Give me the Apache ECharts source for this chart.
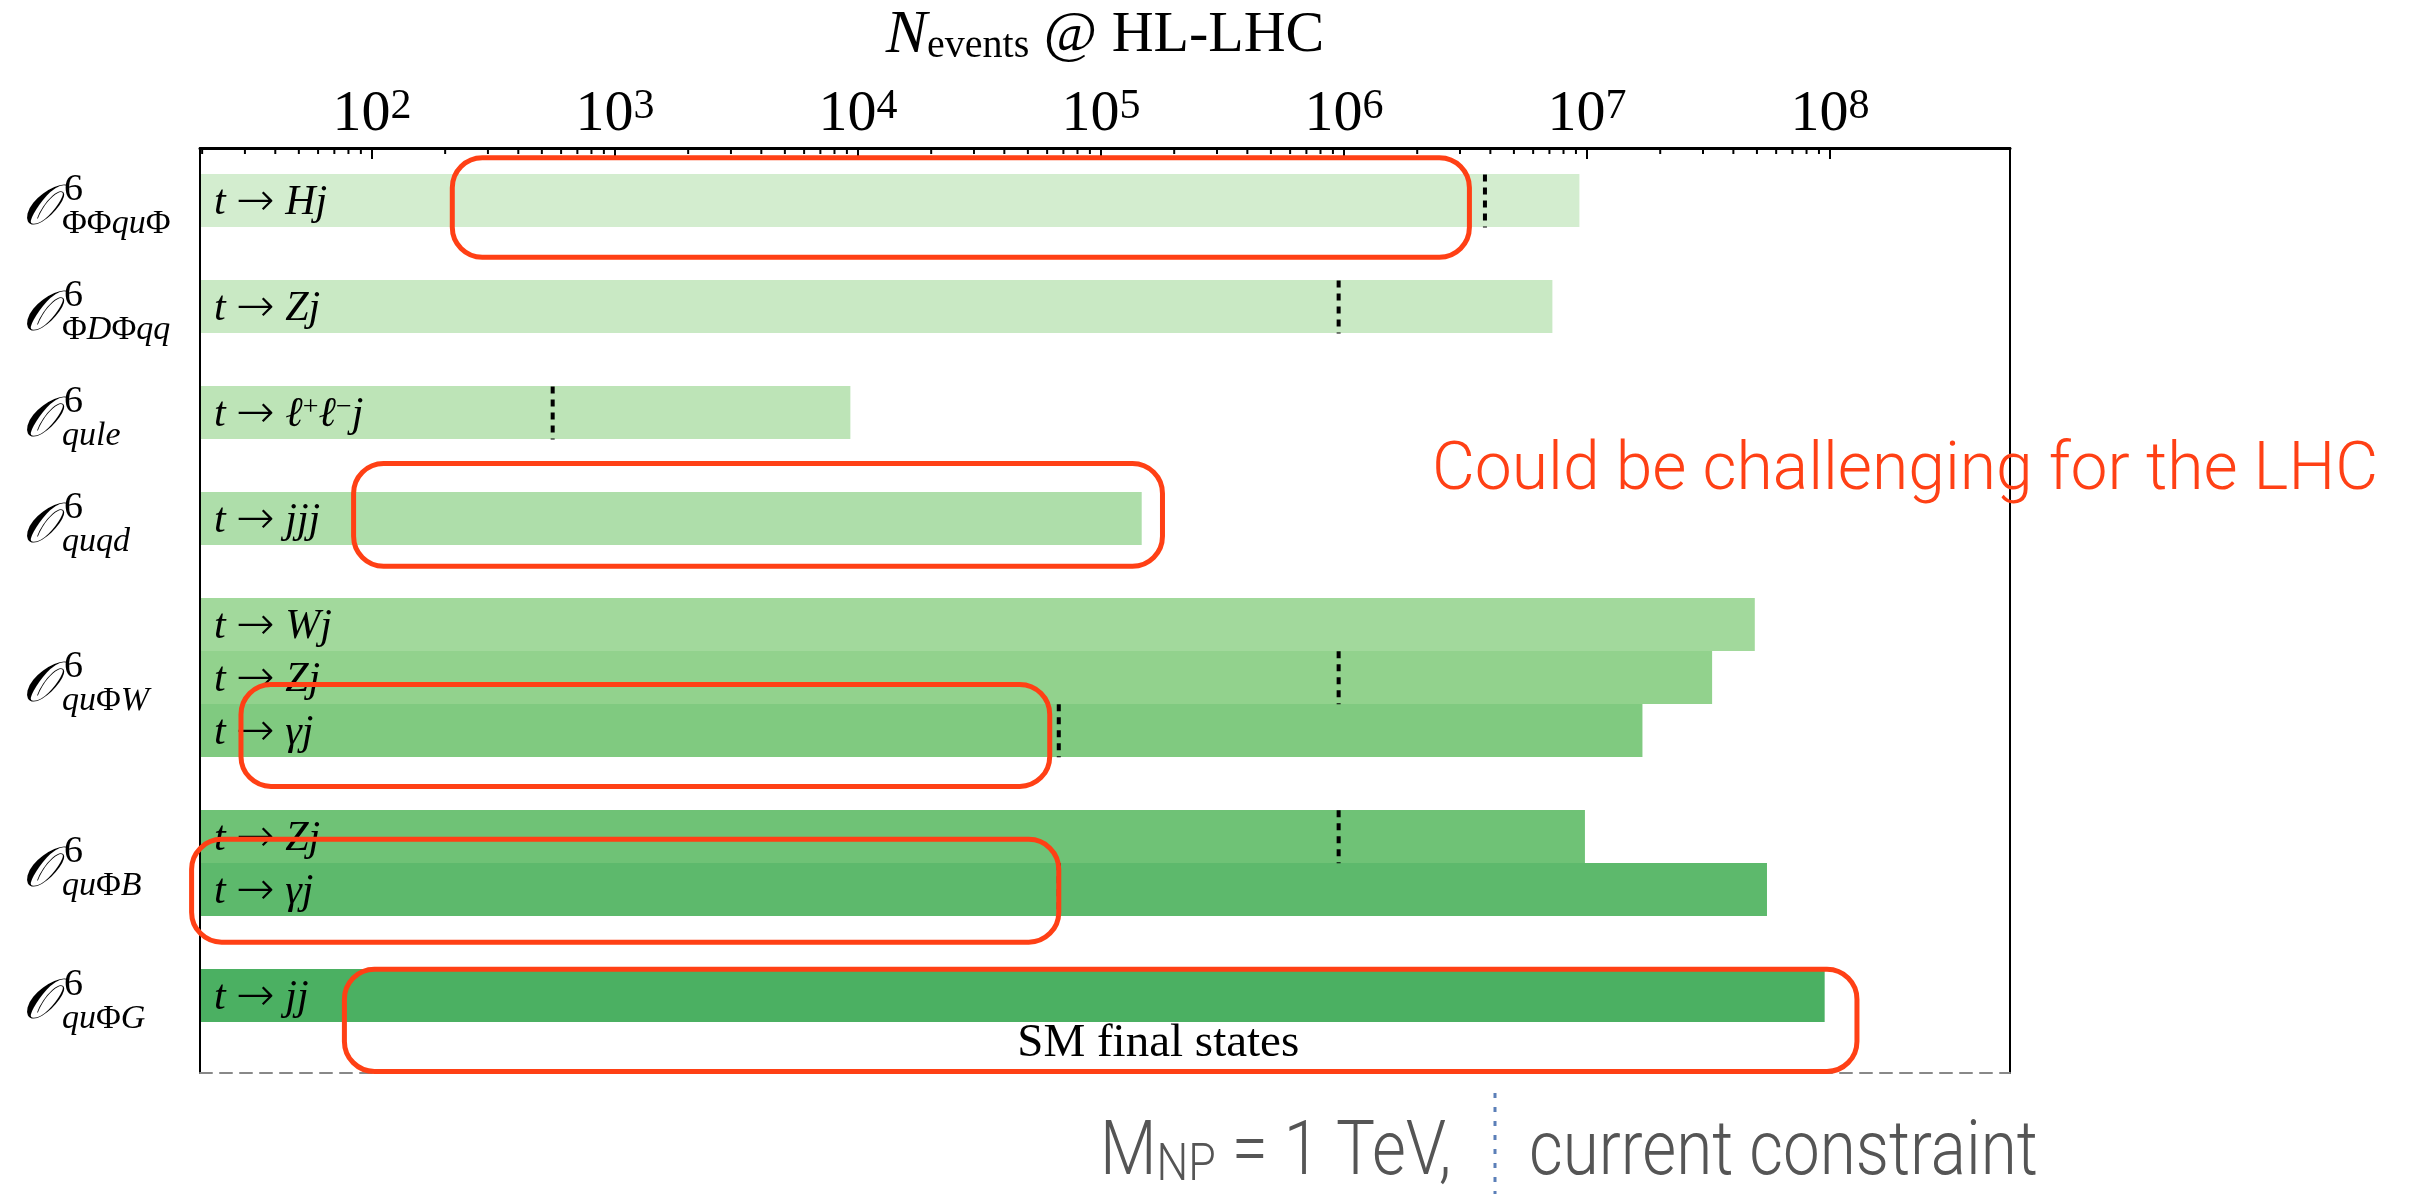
<!DOCTYPE html>
<html><head><meta charset="utf-8">
<script src="https://cdn.jsdelivr.net/npm/echarts@6/dist/echarts.min.js"></script>
<style>html,body{margin:0;padding:0;background:#fff;}#c{width:2420px;height:1194px;}</style>
</head><body><div id="c"></div>
<script>
// ---------------- data ----------------
const xTickExponents = [2, 3, 4, 5, 6, 7, 8];
const minorMultipliers = [2, 3, 4, 5, 6, 7, 8, 9];
const minorDecades = [10, 100, 1e3, 1e4, 1e5, 1e6, 1e7, 1e8];
const barLabels = ['t→Hj', 't→Zj', 't→ℓ^+ℓ^−j', 't→jjj', 't→Wj', 't→Zj', 't→γj', 't→Zj', 't→γj', 't→jj'];
const barRows = [0, 2, 4, 6, 8, 9, 10, 12, 13, 15];
const barValues = [9.3e6, 7.2e6, 9.3e3, 1.47e5, 4.9e7, 3.27e7, 1.69e7, 9.8e6, 5.5e7, 9.5e7];
const constraintValues = [3.8e6, 9.5e5, 554, null, null, 9.5e5, 6.7e4, 9.5e5, 6.7e4, null];
const barColors = ['#d3edcf', '#c9e9c4', '#bde4b7', '#aedeaa', '#a2d99c', '#92d28d', '#80ca80', '#6fc276', '#5db96c', '#4bb062'];
const operatorSubs = ['ΦΦquΦ', 'ΦDΦqq', 'qule', 'quqd', 'quΦW', 'quΦB', 'quΦG'];
const operatorRows = [0, 2, 4, 6, 9, 12.5, 15];
const boxX0 = [214, 84, 28.9, 18.1, 77];
const boxX1 = [3.28e6, 1.79e5, 6.15e4, 6.7e4, 1.29e8];
const boxY0 = [-0.816, 4.956, 9.126, 12.05, 14.5];
const boxY1 = [1.061, 6.895, 11.05, 13.99, 16.43];
const smText = 'SM final states';
const smPos = [1.72e5, 15.9];
const titleText = '{n|N}{e|events}{r| @ HL-LHC}';
const noteText = 'Could be challenging for the LHC';
const legendLeft = '{m|M}{s|NP}{r| = 1 TeV,}';
const legendRight = 'current constraint';
const xMin = 19.6, xMax = 5.5e8, yMin = -1, yMax = 16.46;

// ---------------- helpers ----------------
const SERIF = '"Liberation Serif", "DejaVu Serif", serif';
function mathRich(s) {
  let out = '';
  for (let k = 0; k < s.length; k++) {
    const c = s[k];
    if (c === '^') { out += '{sp|' + s[++k] + '}'; }
    else if (c === '→') { out += '{g| }{a|→}{g| }'; }
    else if ('ΦΓΔΘΛΞΠΣΥΨΩ'.includes(c)) { out += '{r|' + c + '}'; }
    else { out += '{i|' + c + '}'; }
  }
  return out;
}
const minorTicks = [];
minorDecades.forEach(d => minorMultipliers.forEach(m => {
  const v = m * d / 10;
  if (v > xMin && v < xMax) minorTicks.push(v);
}));

const barRich = {
  i: { fontFamily: SERIF, fontStyle: 'italic', fontSize: 42, lineHeight: 42, fill: '#000' },
  r: { fontFamily: SERIF, fontSize: 42, lineHeight: 42, fill: '#000' },
  g: { fontFamily: SERIF, fontSize: 42, lineHeight: 42, fill: '#000' },
  a: { fontFamily: '"DejaVu Sans ExtraLight", "DejaVu Sans", sans-serif', fontWeight: 200, fontSize: 46, lineHeight: 42, fill: '#000' },
  sp: { fontFamily: SERIF, fontSize: 28, lineHeight: 14, verticalAlign: 'top', fill: '#000' }
};
const subRich = {
  i: { fontFamily: SERIF, fontStyle: 'italic', fontSize: 34, lineHeight: 34, fill: '#000' },
  r: { fontFamily: SERIF, fontSize: 34, lineHeight: 34, fill: '#000' }
};

const chart = echarts.init(document.getElementById('c'), null, { renderer: 'canvas' });

const hiddenAxisBits = { axisTick: { show: false }, axisLabel: { show: false }, splitLine: { show: false } };

const option = {
  backgroundColor: '#fff',
  animation: false,
  grid: { left: 200, right: 410, top: 142, bottom: 121, containLabel: false },
  xAxis: [
    {
      type: 'log', logBase: 10, position: 'top', min: xMin, max: xMax, z: 10,
      axisLine: { show: true, onZero: false, lineStyle: { color: '#000', width: 3 } },
      axisTick: { show: true, inside: true, length: 11, lineStyle: { color: '#000', width: 2 } },
      minorTick: { show: false },
      splitLine: { show: false },
      axisLabel: {
        margin: 4,
        formatter: function (v) {
          const e = Math.log10(v), r = Math.round(e);
          return (Math.abs(e - r) < 1e-6 && xTickExponents.includes(r)) ? '{b|10}{s|' + r + '}' : '';
        },
        rich: {
          b: { fontFamily: SERIF, fontSize: 58, lineHeight: 58, color: '#000' },
          s: { fontFamily: SERIF, fontSize: 42, lineHeight: 24, verticalAlign: 'top', color: '#000' }
        }
      },
      name: titleText, nameLocation: 'middle', nameGap: 82,
      nameTextStyle: {
        rich: {
          n: { fontFamily: SERIF, fontStyle: 'italic', fontSize: 62, lineHeight: 60, color: '#000' },
          e: { fontFamily: SERIF, fontSize: 40, lineHeight: 26, verticalAlign: 'bottom', color: '#000' },
          r: { fontFamily: SERIF, fontSize: 58, lineHeight: 60, color: '#000' }
        }
      }
    },
    Object.assign({
      type: 'log', logBase: 10, position: 'bottom', min: xMin, max: xMax, z: 10,
      axisLine: { show: true, onZero: false, lineStyle: { color: '#888', width: 2, type: [12, 8] } }
    }, hiddenAxisBits)
  ],
  yAxis: [
    Object.assign({
      type: 'value', inverse: true, min: yMin, max: yMax, position: 'left', z: 10,
      axisLine: { show: true, onZero: false, lineStyle: { color: '#000', width: 2 } }
    }, hiddenAxisBits),
    Object.assign({
      type: 'value', inverse: true, min: yMin, max: yMax, position: 'right', z: 10,
      axisLine: { show: true, onZero: false, lineStyle: { color: '#000', width: 2 } }
    }, hiddenAxisBits)
  ],
  series: [
    { // bars
      type: 'custom', xAxisIndex: 0, yAxisIndex: 0, z: 2,
      data: barValues.map((v, i) => [v, barRows[i]]),
      encode: { x: 0, y: 1 },
      renderItem: function (params, api) {
        const i = params.dataIndex;
        const row = api.value(1);
        const a = api.coord([xMin, row - 0.5]);
        const b = api.coord([api.value(0), row + 0.5]);
        const y0 = Math.round(Math.min(a[1], b[1])), y1 = Math.round(Math.max(a[1], b[1]));
        return { type: 'rect', shape: { x: a[0], y: y0, width: b[0] - a[0], height: y1 - y0 }, style: { fill: barColors[i] } };
      }
    },
    { // current constraint dotted lines
      type: 'custom', xAxisIndex: 0, yAxisIndex: 0, z: 3,
      data: constraintValues.map((v, i) => [v == null ? barValues[i] : v, barRows[i], v == null ? 0 : 1]),
      encode: { x: 0, y: 1 },
      renderItem: function (params, api) {
        if (!api.value(2)) return null;
        const row = api.value(1);
        const a = api.coord([api.value(0), row - 0.5]);
        const b = api.coord([api.value(0), row + 0.5]);
        return { type: 'line', shape: { x1: a[0], y1: a[1], x2: b[0], y2: b[1] }, style: { stroke: '#000', lineWidth: 4, lineDash: [7, 6] } };
      }
    },
    { // bar labels
      type: 'custom', xAxisIndex: 0, yAxisIndex: 0, z: 4, clip: false,
      data: barRows.map((r, i) => [xMin, r]),
      encode: { x: 0, y: 1 },
      renderItem: function (params, api) {
        const p = api.coord([xMin, api.value(1)]);
        return { type: 'text', x: p[0] + 14, y: p[1] + 2,
          style: { text: mathRich(barLabels[params.dataIndex]), rich: barRich, fill: '#000', align: 'left', verticalAlign: 'middle', textAlign: 'left', textVerticalAlign: 'middle' } };
      }
    },
    { // operator labels on the left
      type: 'custom', xAxisIndex: 0, yAxisIndex: 0, z: 4, clip: false,
      data: operatorRows.map(r => [xMin, r]),
      encode: { x: 0, y: 1 },
      renderItem: function (params, api) {
        const p = api.coord([xMin, api.value(1)]);
        const common = { fill: '#000', align: 'left', verticalAlign: 'middle', textAlign: 'left', textVerticalAlign: 'middle' };
        return { type: 'group', children: [
          { type: 'text', x: p[0] - 178, y: p[1] + 8, style: Object.assign({ text: '𝒪', fontFamily: SERIF, fontStyle: 'italic', fontSize: 56 }, common) },
          { type: 'text', x: p[0] - 136, y: p[1] - 11, style: Object.assign({ text: '6', fontFamily: SERIF, fontSize: 38 }, common) },
          { type: 'text', x: p[0] - 138, y: p[1] + 23, style: Object.assign({ text: mathRich(operatorSubs[params.dataIndex]), rich: subRich }, common) }
        ] };
      }
    },
    { // minor ticks on the top axis
      type: 'custom', xAxisIndex: 0, yAxisIndex: 0, z: 11, clip: false,
      data: minorTicks.map(v => [v, yMin]),
      encode: { x: 0, y: 1 },
      renderItem: function (params, api) {
        const p = api.coord([api.value(0), yMin]);
        return { type: 'line', shape: { x1: p[0], y1: p[1], x2: p[0], y2: p[1] + 6 }, style: { stroke: '#000', lineWidth: 2 } };
      }
    },
    { // SM final states text
      type: 'custom', xAxisIndex: 0, yAxisIndex: 0, z: 4, clip: false,
      data: [smPos],
      encode: { x: 0, y: 1 },
      renderItem: function (params, api) {
        const p = api.coord([api.value(0), api.value(1)]);
        return { type: 'text', x: p[0], y: p[1], style: { text: smText, fontFamily: SERIF, fontSize: 47, fill: '#000', align: 'center', verticalAlign: 'middle', textAlign: 'center', textVerticalAlign: 'middle' } };
      }
    },
    { // red rounded boxes
      type: 'custom', xAxisIndex: 0, yAxisIndex: 0, z: 20, clip: false,
      data: boxX0.map((x0, i) => [x0, boxY0[i], boxX1[i], boxY1[i]]),
      encode: { x: [0, 2], y: [1, 3] },
      renderItem: function (params, api) {
        const a = api.coord([api.value(0), api.value(1)]);
        const b = api.coord([api.value(2), api.value(3)]);
        return { type: 'rect', shape: { x: a[0], y: a[1], width: b[0] - a[0], height: b[1] - a[1], r: 30 },
          style: { fill: 'none', stroke: '#ff4015', lineWidth: 5 } };
      }
    }
  ],
  graphic: [
    { type: 'text', x: 1432, y: 472, z: 30, scaleX: 1.0,
      style: { text: noteText, fontFamily: 'Roboto', fontWeight: 300, fontSize: 66, fill: '#ff4015', align: 'left', verticalAlign: 'middle', textAlign: 'left', textVerticalAlign: 'middle' } },
    { type: 'text', x: 1100, y: 1117, z: 30, scaleX: 0.86,
      style: { text: legendLeft, fill: '#555', align: 'left', verticalAlign: 'top', textAlign: 'left', textVerticalAlign: 'top',
        rich: {
          m: { fontFamily: 'Roboto', fontWeight: 300, fontSize: 76, lineHeight: 76, fill: '#555' },
          s: { fontFamily: 'Roboto', fontWeight: 300, fontSize: 52, lineHeight: 40, verticalAlign: 'bottom', fill: '#555' },
          r: { fontFamily: 'Roboto', fontWeight: 300, fontSize: 76, lineHeight: 76, fill: '#555' }
        } } },
    { type: 'line', z: 30, shape: { x1: 1495, y1: 1093, x2: 1495, y2: 1194 }, style: { stroke: '#5b7fb8', lineWidth: 3, lineDash: [5, 9] } },
    { type: 'text', x: 1529, y: 1117, z: 30, scaleX: 0.862,
      style: { text: legendRight, fontFamily: 'Roboto', fontWeight: 300, fontSize: 76, lineHeight: 76, fill: '#555', align: 'left', verticalAlign: 'top', textAlign: 'left', textVerticalAlign: 'top' } }
  ]
};
chart.setOption(option);
</script>
</body></html>
